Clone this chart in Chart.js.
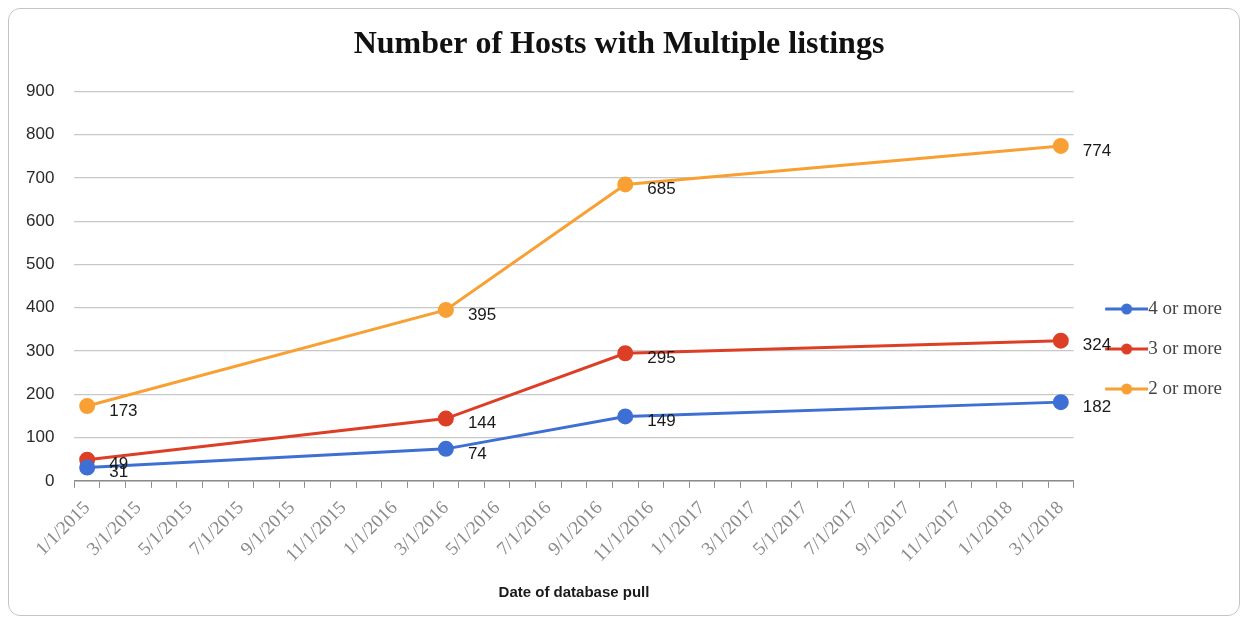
<!DOCTYPE html>
<html>
<head>
<meta charset="utf-8">
<script src="https://cdn.jsdelivr.net/npm/chart.js@4"></script>
<style>
  body { margin: 0; background: #fff; }
  #wrap { position: relative; width: 1250px; height: 626px; }
  #frame { position: absolute; left: 8px; top: 8px; width: 1230px; height: 606px;
           border: 1.5px solid #c4c4c4; border-radius: 12px; pointer-events: none; }
</style>
</head>
<body>
<div id="wrap">
  <canvas id="hostChart" width="1250" height="626"></canvas>
  <div id="frame"></div>
</div>
<script>
// month buckets on the date axis (one per month, label every other one)
const months = [
  '1/1/2015','2/1/2015','3/1/2015','4/1/2015','5/1/2015','6/1/2015','7/1/2015','8/1/2015',
  '9/1/2015','10/1/2015','11/1/2015','12/1/2015',
  '1/1/2016','2/1/2016','3/1/2016','4/1/2016','5/1/2016','6/1/2016','7/1/2016','8/1/2016',
  '9/1/2016','10/1/2016','11/1/2016','12/1/2016',
  '1/1/2017','2/1/2017','3/1/2017','4/1/2017','5/1/2017','6/1/2017','7/1/2017','8/1/2017',
  '9/1/2017','10/1/2017','11/1/2017','12/1/2017',
  '1/1/2018','2/1/2018','3/1/2018'
];

const pullDates = ['1/1/2015', '3/1/2016', '10/1/2016', '3/1/2018'];
const fourOrMore = [31, 74, 149, 182];
const threeOrMore = [49, 144, 295, 324];
const twoOrMore = [173, 395, 685, 774];

const seriesNames = ['4 or more', '3 or more', '2 or more'];
const seriesColors = ['#3d6fd4', '#dd3f26', '#f8a034'];

function toPoints(values) {
  return pullDates.map((d, i) => ({ x: d, y: values[i] }));
}

// legend swatch: line with a dot, shifted right so it runs up to the text
function legendSample(color) {
  const c = document.createElement('canvas');
  c.width = 63; c.height = 14;
  const g = c.getContext('2d');
  g.strokeStyle = color; g.lineWidth = 3;
  g.beginPath(); g.moveTo(20, 7); g.lineTo(63, 7); g.stroke();
  g.fillStyle = color;
  g.beginPath(); g.arc(41.5, 7, 5.5, 0, Math.PI * 2); g.fill();
  return c;
}

// value labels to the right of each point
const pointLabels = {
  id: 'pointLabels',
  afterDatasetsDraw(chart) {
    const ctx = chart.ctx;
    ctx.save();
    ctx.font = '17px "Liberation Sans"';
    ctx.fillStyle = '#1a1a1a';
    ctx.textAlign = 'left';
    ctx.textBaseline = 'middle';
    chart.data.datasets.forEach((ds, i) => {
      chart.getDatasetMeta(i).data.forEach((pt, j) => {
        ctx.fillText(ds.data[j].y, pt.x + 22, pt.y + 5);
      });
    });
    ctx.restore();
  }
};

const ctx = document.getElementById('hostChart').getContext('2d');
new Chart(ctx, {
  type: 'line',
  data: {
    labels: months,
    datasets: [fourOrMore, threeOrMore, twoOrMore].map((vals, i) => ({
      label: seriesNames[i],
      data: toPoints(vals),
      borderColor: seriesColors[i],
      backgroundColor: seriesColors[i],
      borderWidth: 3,
      pointRadius: 6.5,
      pointHoverRadius: 6.5,
      tension: 0
    }))
  },
  options: {
    responsive: false,
    animation: false,
    layout: { padding: { left: 6, right: 18, top: 14, bottom: 20 } },
    plugins: {
      title: {
        display: true,
        text: 'Number of Hosts with Multiple listings',
        font: { family: 'Liberation Serif', size: 32, weight: 'bold' },
        color: '#111',
        padding: { top: 12, bottom: 27 }
      },
      legend: {
        position: 'right',
        title: {
          display: true,
          text: ' ',
          font: { size: 10 },
          padding: { top: 33, bottom: 33 }
        },
        labels: {
          usePointStyle: true,
          pointStyleWidth: 44,
          padding: 21,
          color: '#444',
          font: { family: 'Liberation Serif', size: 19 },
          generateLabels(chart) {
            const items = Chart.defaults.plugins.legend.labels.generateLabels(chart);
            items.forEach((it, i) => { it.pointStyle = legendSample(seriesColors[i]); });
            return items;
          }
        }
      },
      tooltip: { enabled: false }
    },
    scales: {
      x: {
        offset: true,
        grid: { offset: true, drawOnChartArea: false, drawTicks: true, tickLength: 7, color: '#8c8c8c' },
        border: { color: '#8c8c8c', width: 1.5 },
        ticks: {
          autoSkip: false,
          minRotation: 45,
          maxRotation: 45,
          padding: 9,
          color: '#8a8a8a',
          font: { family: 'Liberation Serif', size: 19 },
          callback(val, idx) { return idx % 2 === 0 ? months[idx] : ''; }
        },
        title: {
          display: true,
          text: 'Date of database pull',
          color: '#1a1a1a',
          font: { family: 'Liberation Sans', size: 15, weight: 'bold' },
          padding: { top: 8 }
        }
      },
      y: {
        min: 0,
        max: 900,
        border: { display: false },
        grid: { color: '#c8c8c8', lineWidth: 1.2, drawTicks: false },
        ticks: {
          stepSize: 100,
          padding: 20,
          color: '#2a2a2a',
          font: { family: 'Liberation Sans', size: 17 }
        }
      }
    }
  },
  plugins: [pointLabels]
});
</script>
</body>
</html>
